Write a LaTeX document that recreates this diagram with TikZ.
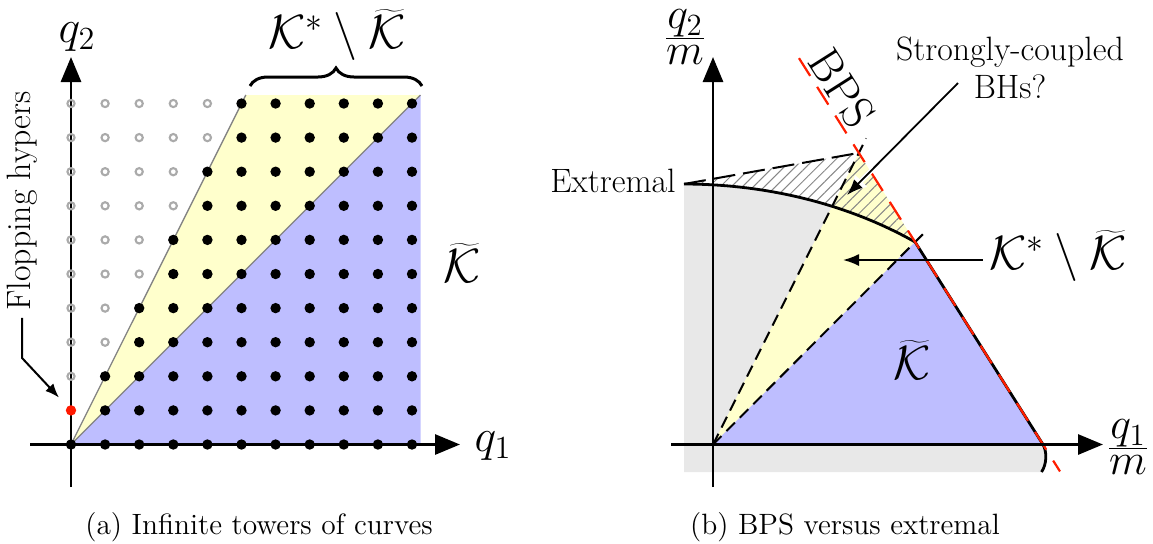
\RequirePackage{fix-cm}
\documentclass[tikz,border=0pt]{standalone}
\usetikzlibrary{arrows.meta,decorations.pathreplacing,patterns.meta,calc}
\definecolor{kyellow}{RGB}{255,255,204}
\definecolor{kblue}{RGB}{190,190,255}
\definecolor{kgray}{RGB}{232,232,232}
\definecolor{dotgray}{RGB}{170,170,170}
\definecolor{linegray}{RGB}{130,130,130}
\definecolor{bpsred}{RGB}{255,30,0}
\definecolor{hatchgray}{RGB}{135,135,135}
\definecolor{flopred}{RGB}{255,25,0}
\begin{document}
\begin{tikzpicture}[x=0.5pt,y=-0.5pt,
  axis/.style={line width=1.45pt,-{Triangle[length=12.5pt,width=10pt]}},
  ptr/.style={line width=0.9pt,-{Latex[length=8pt,width=6pt]}},
  mlabel/.style={font=\fontsize{24}{28}\selectfont, inner sep=0pt},
  qlabel/.style={font=\fontsize{23}{27}\selectfont, inner sep=0pt},
  flabel/.style={font=\fontsize{22}{26}\selectfont, inner sep=0pt},
  tlabel/.style={font=\fontsize{16.9}{19}\selectfont, inner sep=0pt},
  caplabel/.style={font=\fontsize{14.7}{17}\selectfont, inner sep=0pt},
  conedash/.style={line width=1pt, dash pattern=on 6pt off 3.5pt},
  topdash/.style={line width=1pt, dash pattern=on 11pt off 4pt},
  extremal/.style={line width=1.4pt},
  bps/.style={bpsred, line width=1.1pt, dash pattern=on 10.5pt off 6.5pt}
]
\useasboundingbox (0,0) rectangle (1153,543);

% ---------------- panel (a) ----------------
\coordinate (Oa) at (71,444.5);
\coordinate (Ya) at (245.8,95);
\coordinate (Ta) at (420.5,95);
\coordinate (Ra) at (420.5,444.5);
\fill[kyellow] (Oa) -- (Ya) -- (Ta) -- cycle;
\fill[kblue] (Oa) -- (Ta) -- (Ra) -- cycle;
\draw[linegray, line width=0.65pt] (Ya) -- (Oa) -- (Ta);

\coordinate (xa0) at (30,444.5);
\coordinate (xa1) at (460,444.5);
\coordinate (ya0) at (71,487);
\coordinate (ya1) at (71,57);
\draw[axis] (xa0) -- (xa1);
\draw[axis] (ya0) -- (ya1);

\foreach \j in {0,...,10}{
  \foreach \i in {0,...,10}{
    \pgfmathtruncatemacro{\kind}{(2*\i<\j)?(((\i==0)&&(\j==1))?2:1):0}
    \ifcase\kind
      \fill (71+\i*34.1,444.5-\j*34.1) circle[radius=2.6pt];
    \or
      \draw[dotgray,line width=1.05pt] (71+\i*34.1,444.5-\j*34.1) circle[radius=1.8pt];
    \fi
  }
}
\node[circle, fill=flopred, inner sep=0pt, minimum size=5.2pt] (flop) at (71,410.4) {};

\node[tlabel, rotate=90] (floptxt) at (22,201) {Flopping hypers};
\draw[line width=1pt, -{Latex[length=7pt,width=5.5pt]}, shorten >=6pt]
  (floptxt.west) ++(0,7) -- ++(0,40) -- (flop);

\draw[decorate, decoration={brace, amplitude=9pt}, line width=1.5pt] (250,86) -- (422,86);
\node[mlabel] (klabA) at (337,35) {$\mathcal{K}^*\setminus\widetilde{\mathcal{K}}$};
\node[mlabel] (ktA) at (462,263) {$\widetilde{\mathcal{K}}$};
\node[qlabel] (q2a) at (77,37) {$q_2$};
\node[qlabel] (q1a) at (493,446) {$q_1$};
\node[caplabel] (capa) at (259,527) {(a) Infinite towers of curves};

% ---------------- panel (b) ----------------
\coordinate (Ob) at (713,444.5);
\coordinate (C) at (915.1,242);
\coordinate (B) at (1043,444.5);
\coordinate (P) at (858.8,152.9);
\coordinate (E0) at (684,184);
\coordinate (G0) at (684,472);
\coordinate (G1) at (1041.5,472);

\fill[kgray] (G0) -- plot[domain=-90:-53,samples=40] ({684+384*cos(\x)},{472+288*sin(\x)})
  -- (B) .. controls (1047,451.5) and (1047,464) .. (G1) -- cycle;
\fill[kyellow] (Ob) -- (P) -- (C) -- cycle;
\fill[kblue] (Ob) -- (C) -- (B) -- cycle;
\fill[pattern={Lines[angle=45,distance=3.9pt,line width=0.5pt]}, pattern color=hatchgray]
  plot[domain=-90:-53,samples=40] ({684+384*cos(\x)},{472+288*sin(\x)}) -- (P) -- cycle;

\draw[conedash] (Ob) -- ($(Ob)!1.05!(P)$);
\draw[conedash] (Ob) -- ($(Ob)!1.04!(C)$);
\draw[topdash] (E0) -- (P);
\draw[extremal] plot[domain=-90:-53,samples=40] ({684+384*cos(\x)},{472+288*sin(\x)})
  -- (B) .. controls (1047,451.5) and (1047,464) .. (G1);
\draw[bps] ($(C)!-0.908!(B)$) -- ($(C)!1.133!(B)$);

\coordinate (xb0) at (671,444.5);
\coordinate (xb1) at (1103,444.5);
\coordinate (yb0) at (713,487);
\coordinate (yb1) at (713,57);
\draw[axis] (xb0) -- (xb1);
\draw[axis] (yb0) -- (yb1);

\node[flabel] (q2b) at (685,37) {$\frac{\textstyle q_2}{\textstyle m}$};
\node[flabel] (q1b) at (1128,447) {$\frac{\textstyle q_1}{\textstyle m}$};
\node[mlabel] (ktB) at (912,360) {$\widetilde{\mathcal{K}}$};
\node[font=\fontsize{23}{27}\selectfont, inner sep=0pt, rotate=-57.6] (bps) at (842,88) {BPS};
\node[tlabel, anchor=base east] (extr) at (676,192.7) {Extremal};
\node[tlabel, align=center] (sc) at (1010,68) {Strongly-coupled\\BHs?};

\coordinate (scA) at (958,83);
\coordinate (scT) at (847,195);
\draw[white, line width=2.5pt, -{Latex[length=10pt,width=9pt]}] (scA) -- (scT);
\draw[ptr] (scA) -- (scT);

\node[mlabel] (klabB) at (1058,256) {$\mathcal{K}^*\setminus\widetilde{\mathcal{K}}$};
\coordinate (kbT) at (843,260);
\draw[ptr] ([xshift=-3pt,yshift=-2pt]klabB.west) -- (kbT);

\node[caplabel] (capb) at (845,527) {(b) BPS versus extremal};
\end{tikzpicture}
\end{document}
